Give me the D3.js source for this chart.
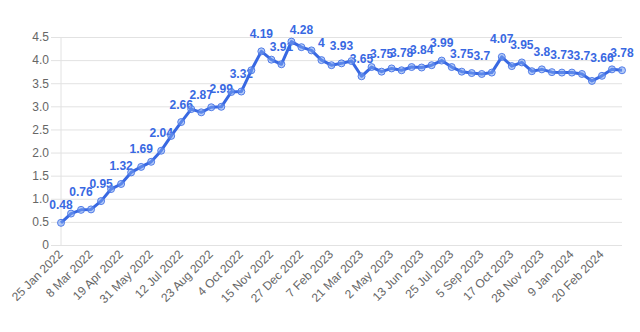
<!DOCTYPE html>
<html>
<head>
<meta charset="utf-8">
<script src="https://cdn.jsdelivr.net/npm/d3@7"></script>
<style>
  html, body { margin: 0; padding: 0; background: #fff; }
  svg { display: block; font-family: "Liberation Sans", Arial, Helvetica, sans-serif; }
</style>
</head>
<body>
<svg id="chart" width="640" height="332"></svg>
<script>
// Fortnightly observations
const dates = [
  "2022-01-25","2022-02-08","2022-02-22","2022-03-08","2022-03-22","2022-04-05","2022-04-19",
  "2022-05-03","2022-05-17","2022-05-31","2022-06-14","2022-06-28","2022-07-12","2022-07-26",
  "2022-08-09","2022-08-23","2022-09-06","2022-09-20","2022-10-04","2022-10-18","2022-11-01",
  "2022-11-15","2022-11-29","2022-12-13","2022-12-27","2023-01-10","2023-01-24","2023-02-07",
  "2023-02-21","2023-03-07","2023-03-21","2023-04-04","2023-04-18","2023-05-02","2023-05-16",
  "2023-05-30","2023-06-13","2023-06-27","2023-07-11","2023-07-25","2023-08-08","2023-08-22",
  "2023-09-05","2023-09-19","2023-10-03","2023-10-17","2023-10-31","2023-11-14","2023-11-28",
  "2023-12-12","2023-12-26","2024-01-09","2024-01-23","2024-02-06","2024-02-20","2024-03-05",
  "2024-03-19"
];
const values = [
  0.48, 0.68, 0.76, 0.77, 0.95, 1.21, 1.32, 1.57, 1.69, 1.80,
  2.04, 2.36, 2.66, 2.94, 2.87, 2.98, 2.99, 3.31, 3.32, 3.78,
  4.19, 4.01, 3.91, 4.40, 4.28, 4.21, 4.00, 3.89, 3.93, 3.98,
  3.65, 3.85, 3.75, 3.82, 3.78, 3.85, 3.84, 3.89, 3.99, 3.85,
  3.75, 3.72, 3.70, 3.73, 4.07, 3.87, 3.95, 3.76, 3.80, 3.74,
  3.73, 3.73, 3.70, 3.55, 3.66, 3.80, 3.78
];
const xTickDates = [
  "2022-01-25","2022-03-08","2022-04-19","2022-05-31","2022-07-12","2022-08-23","2022-10-04",
  "2022-11-15","2022-12-27","2023-02-07","2023-03-21","2023-05-02","2023-06-13","2023-07-25",
  "2023-09-05","2023-10-17","2023-11-28","2024-01-09","2024-02-20"
];
const yTicks = [0, 0.5, 1.0, 1.5, 2.0, 2.5, 3.0, 3.5, 4.0, 4.5];

const parse = d3.utcParse("%Y-%m-%d");
const fmt = d3.utcFormat("%-d %b %Y");
const data = dates.map((d, i) => ({ date: parse(d), value: values[i], i }));

const W = 640, H = 332;
const margin = { top: 37, right: 18, bottom: 87, left: 61 };
const innerW = W - margin.left - margin.right;
const innerH = H - margin.top - margin.bottom;

const blue = "#3868e2";
const grid = "#e2e2e2";
const textGrey = "#666";

const svg = d3.select("#chart");
const g = svg.append("g").attr("transform", `translate(${margin.left},${margin.top})`);

const x = d3.scaleUtc()
  .domain(d3.extent(data, d => d.date))
  .range([0, innerW]);
const y = d3.scaleLinear().domain([0, 4.5]).range([innerH, 0]);

// horizontal grid with short outer ticks
const yAxis = d3.axisLeft(y)
  .tickValues(yTicks)
  .tickSize(-(innerW + 10))
  .tickPadding(2)
  .tickFormat(d => d === 0 ? "0" : d.toFixed(1));
const yg = g.append("g").attr("transform", "translate(-10,0)").call(yAxis);
yg.select(".domain").remove();
yg.selectAll(".tick line").attr("stroke", grid).attr("stroke-width", 1);
yg.selectAll(".tick text").attr("fill", textGrey).attr("font-size", 12);

// vertical axis line
g.append("line")
  .attr("x1", 0).attr("x2", 0)
  .attr("y1", 0).attr("y2", innerH)
  .attr("stroke", grid);

// x axis labels
const xAxis = d3.axisBottom(x)
  .tickValues(xTickDates.map(parse))
  .tickSize(0)
  .tickFormat(fmt);
const xg = g.append("g").attr("transform", `translate(0,${innerH})`).call(xAxis);
xg.select(".domain").remove();
xg.selectAll(".tick text")
  .attr("fill", textGrey)
  .attr("font-size", 12)
  .attr("text-anchor", "end")
  .attr("dy", null)
  .attr("y", 0)
  .attr("transform", "translate(2,10) rotate(-45)");

// value labels on every other point, drawn beneath the line
g.append("g")
  .selectAll("text")
  .data(data.filter(d => d.i % 2 === 0))
  .join("text")
  .attr("x", d => x(d.date))
  .attr("y", d => y(d.value) - 13.5)
  .attr("text-anchor", "middle")
  .attr("font-size", 12)
  .attr("font-weight", "bold")
  .attr("fill", blue)
  .text(d => String(d.value));

const line = d3.line().x(d => x(d.date)).y(d => y(d.value));
g.append("path")
  .datum(data)
  .attr("d", line)
  .attr("fill", "none")
  .attr("stroke", blue)
  .attr("stroke-width", 3)
  .attr("stroke-linejoin", "round");

g.append("g")
  .selectAll("circle")
  .data(data)
  .join("circle")
  .attr("cx", d => x(d.date))
  .attr("cy", d => y(d.value))
  .attr("r", 3.5)
  .attr("fill", "rgba(120,160,240,0.55)")
  .attr("stroke", "rgba(70,115,230,0.9)")
  .attr("stroke-width", 1);
</script>
</body>
</html>
